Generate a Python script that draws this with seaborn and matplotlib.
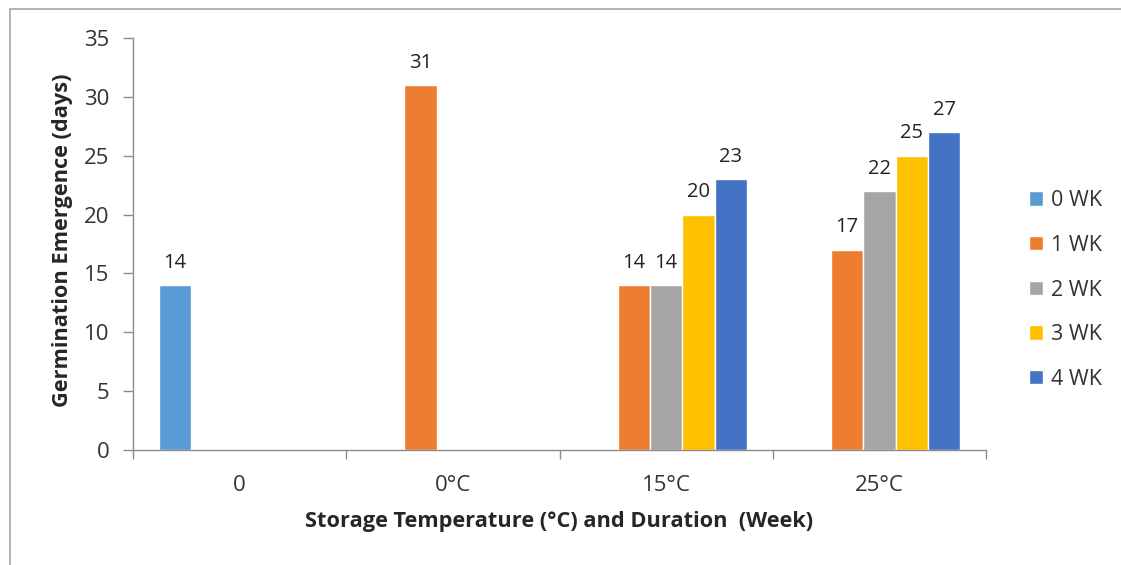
import matplotlib
matplotlib.use("Agg")

import pandas as pd
import matplotlib.pyplot as plt
import seaborn as sns
from matplotlib.patches import Rectangle
from matplotlib.ticker import FixedLocator

# chart data
categories = ["0", "0°C", "15°C", "25°C"]
durations = ["0 WK", "1 WK", "2 WK", "3 WK", "4 WK"]
colors = ["#5B9BD5", "#ED7D31", "#A5A5A5", "#FFC000", "#4472C4"]

bar_category = ["0", "0°C", "15°C", "15°C", "15°C", "15°C",
                "25°C", "25°C", "25°C", "25°C"]
bar_duration = ["0 WK", "1 WK", "1 WK", "2 WK", "3 WK", "4 WK",
                "1 WK", "2 WK", "3 WK", "4 WK"]
bar_days = [14, 31, 14, 14, 20, 23, 17, 22, 25, 27]

df = pd.DataFrame({"storage": bar_category,
                   "duration": bar_duration,
                   "days": bar_days})

sns.set_style("white")
plt.rcParams["font.family"] = ["Open Sans", "DejaVu Sans"]

fig = plt.figure(figsize=(11.21, 5.65), dpi=100)
ax = fig.add_axes([133 / 1121, 1 - 450 / 565, 853 / 1121, 412 / 565])

sns.barplot(
    data=df,
    x="storage",
    y="days",
    hue="duration",
    order=categories,
    hue_order=durations,
    palette=colors,
    width=0.76,
    saturation=1,
    errorbar=None,
    ax=ax,
)

for cont in ax.containers:
    ax.bar_label(cont, fmt="%g", padding=9, fontsize=14.5, color="#222222")

ax.set_ylim(0, 35)
ax.set_yticks(range(0, 36, 5))
ax.set_xlim(-0.5, len(categories) - 0.5)
ax.xaxis.set_minor_locator(FixedLocator([i - 0.5 for i in range(len(categories) + 1)]))

axis_gray = "#8c8c8c"
for side in ["top", "right"]:
    ax.spines[side].set_visible(False)
for side in ["left", "bottom"]:
    ax.spines[side].set_color(axis_gray)
    ax.spines[side].set_linewidth(1)

ax.tick_params(axis="y", which="major", left=True, length=7, width=1,
               color=axis_gray, pad=10, labelsize=16, labelcolor="#333333")
ax.tick_params(axis="x", which="major", bottom=True, length=0, pad=18,
               labelsize=16, labelcolor="#333333")
ax.tick_params(axis="x", which="minor", bottom=True, length=6.5, width=1,
               color=axis_gray)

ax.set_ylabel("Germination Emergence (days)", fontsize=15.7, fontweight="bold")
ax.set_xlabel("Storage Temperature (°C) and Duration  (Week)", fontsize=15.7,
              fontweight="bold")
ax.yaxis.set_label_coords(-0.07, 0.51)
ax.xaxis.set_label_coords(0.5, -0.148)

handles, labels = ax.get_legend_handles_labels()
ax.legend(handles, labels, loc="center left",
          bbox_to_anchor=(1010 / 1121, 1 - 290 / 565),
          bbox_transform=fig.transFigure, frameon=False, fontsize=15.5,
          handlelength=0.65, handleheight=0.65, handletextpad=0.35,
          labelspacing=1.1, labelcolor="#333333")

# outer chart border (cropped on the right and bottom)
fig.patches.append(Rectangle((10 / 1121, -0.1), 1.2, 1.1 - 9 / 565,
                             transform=fig.transFigure, fill=False,
                             edgecolor="#a6a6a6", linewidth=1.2))

fig.savefig("out.png", dpi=100)
plt.close(fig)
